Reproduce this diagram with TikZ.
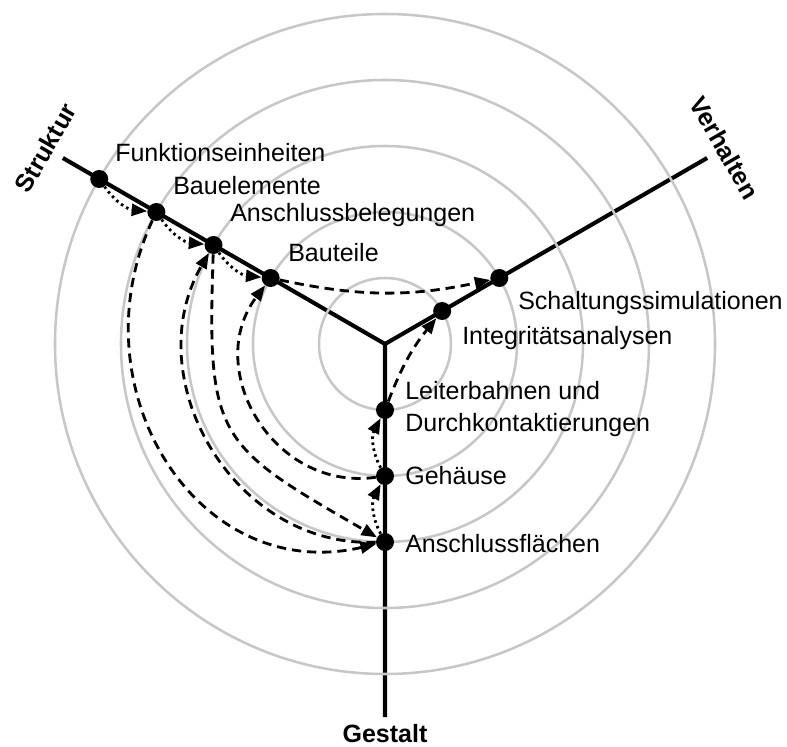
\documentclass[tikz,border=0pt]{standalone}
\usepackage{fontspec}
\setmainfont{Liberation Sans}
\usetikzlibrary{arrows.meta,backgrounds,positioning}

\tikzset{
  axis/.style={line width=2.9pt, line join=miter},
  ring/.style={draw=black!22, line width=1.8pt},
  dot/.style={circle, fill=black, inner sep=0pt, minimum size=0.45cm},
  lbl/.style={inner sep=0pt, anchor=base west, align=left,
    font=\fontsize{17.8}{22.8}\selectfont},
  ttl/.style={inner sep=0pt, font=\fontsize{17.8}{22}\selectfont\bfseries},
  tip/.style={-{Triangle[length=11pt, width=8.5pt]}},
  dsh/.style={tip, line width=2pt, dash pattern=on 6.6pt off 4.2pt},
  dtt/.style={tip, line width=2pt, dash pattern=on 1.8pt off 2.5pt}
}

\begin{document}
\begin{tikzpicture}[x=0.025cm, y=0.025cm]
  \useasboundingbox (-385,-403) rectangle (402,344);
  \begin{scope}[every node/.style={dot}]
    \node (FE) at (150:330) {};
    \node (BE) at (150:264) {};
    \node (AB) at (150:198) {};
    \node (BT) at (150:132) {};
    \node (SS) at (30:132) {};
    \node (IA) at (30:66) {};
    \node (LD) at (270:66) {};
    \node (GH) at (270:132) {};
    \node (AF) at (270:198) {};
  \end{scope}
  \begin{scope}[every node/.style={lbl}]
    \node (tFE) at (-270,182) {Funktionseinheiten};
    \node (tBE) at (-212,149) {Bauelemente};
    \node (tAB) at (-155,122) {Anschlussbelegungen};
    \node (tBT) at (-97,82) {Bauteile};
    \node (tSS) at (133,34) {Schaltungssimulationen};
    \node (tIA) at (77,-1) {Integritätsanalysen};
    \node (tLD) at (20,-88) {Leiterbahnen und\\Durchkontaktierungen};
    \node (tGH) at (20,-141) {Gehäuse};
    \node (tAF) at (20,-208) {Anschlussflächen};
  \end{scope}
  \node (tS) [ttl, rotate=60] at (150:392) {Struktur};
  \node (tV) [ttl, rotate=-60] at (30:392) {Verhalten};
  \node (tG) [ttl] at (270:390) {Gestalt};
  \begin{scope}[on background layer]
    \coordinate (O) at (0,0);
    \coordinate (eS) at (150:372);
    \coordinate (eV) at (30:372);
    \coordinate (eG) at (270:373);
    \draw[axis] (eS) -- (O) -- (eV) (O) -- (eG);
    \foreach \r in {66,132,198,264,330}
      \draw[ring] (O) circle [radius=\r];
  \end{scope}
  \draw[dtt] (FE) to[bend right=25] (BE);
  \draw[dtt] (BE) to[bend right=25] (AB);
  \draw[dtt] (AB) to[bend right=25] (BT);
  \draw[dtt] (AF) to[bend left=28] (GH);
  \draw[dtt] (GH) to[bend left=28] (LD);
  \draw[dsh] (BT) to[bend right=12] (SS);
  \draw[dsh] (LD) to[bend left=9] (IA);
  \draw[dsh] (BE) to[out=245, in=193, looseness=1.2] (AF);
  \draw[dsh] (AB) to[out=268, in=150, looseness=1.45] (AF);
  \draw[dsh] (AF) to[out=182, in=240, looseness=1.1] (AB);
  \draw[dsh] (GH) to[out=188, in=233, looseness=1.2] (BT);
\end{tikzpicture}
\end{document}
